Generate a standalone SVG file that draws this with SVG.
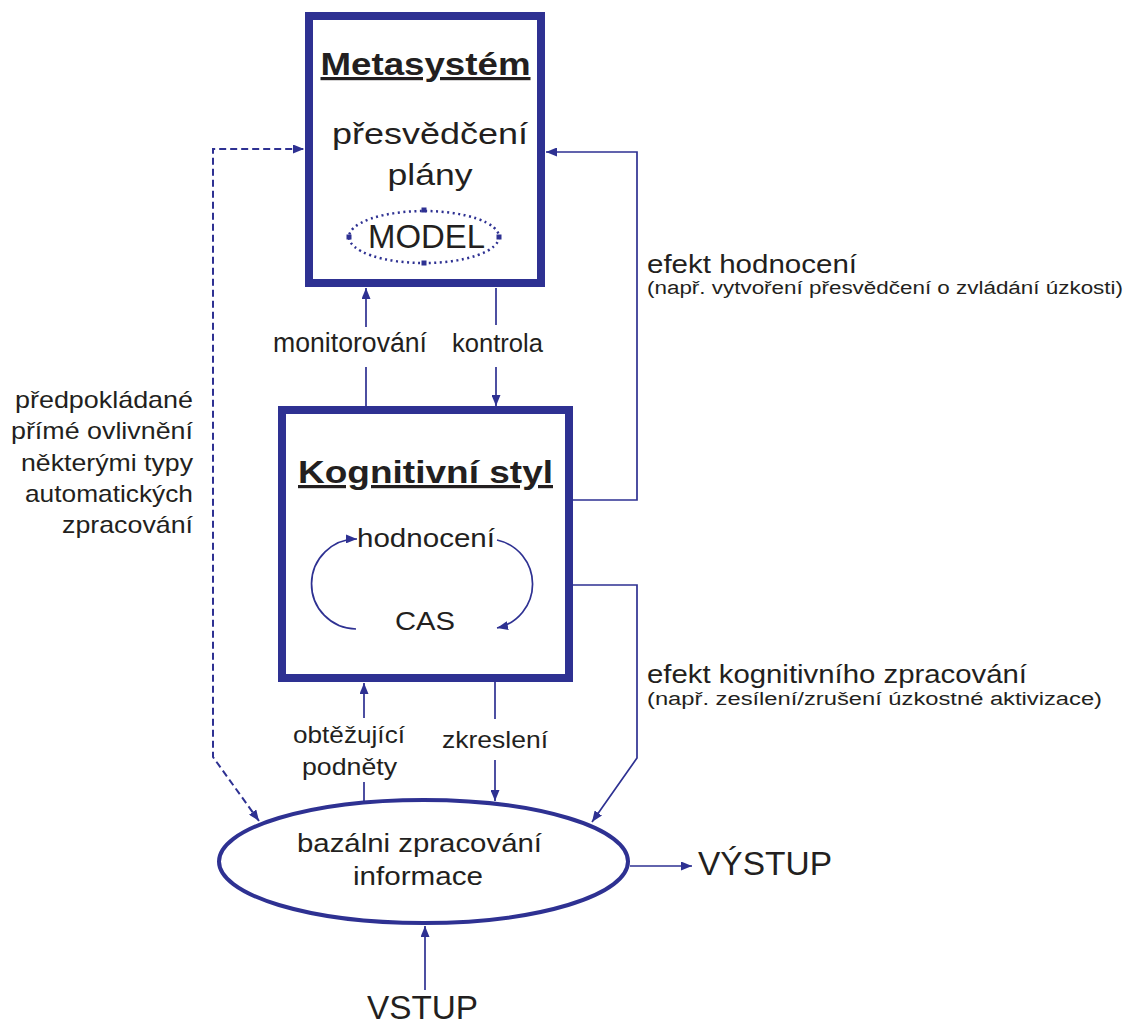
<svg xmlns="http://www.w3.org/2000/svg" width="1136" height="1025" viewBox="0 0 1136 1025">
<defs>
<style>
.box{fill:#fff;stroke:#2e3192;stroke-width:8}
.ell{fill:#fff;stroke:#2e3192;stroke-width:4}
.con{fill:none;stroke:#2e3192;stroke-width:1.7}
.dash{fill:none;stroke:#2e3192;stroke-width:2;stroke-dasharray:7 4}
text{font-family:"Liberation Sans",Arial,sans-serif;fill:#231f20}
.b{font-weight:bold;text-decoration:underline}
.m{text-anchor:middle}
</style>
<marker id="arr" viewBox="0 0 11 9" refX="11" refY="4.5" markerWidth="11" markerHeight="9" markerUnits="userSpaceOnUse" orient="auto-start-reverse">
<path d="M0,0 L11,4.5 L0,9 z" fill="#2e3192"/>
</marker>
</defs>
<rect width="1136" height="1025" fill="#fff"/>

<g id="connectors">
<path class="con" d="M366,406 V367 M366,327 V288" marker-end="url(#arr)"/>
<path class="con" d="M496,288 V325"/>
<path class="con" d="M496,367 V406" marker-end="url(#arr)"/>
<path class="con" d="M364,801 V782 M364,718 V683" marker-end="url(#arr)"/>
<path class="con" d="M495,682 V719"/>
<path class="con" d="M495,760 V801" marker-end="url(#arr)"/>
<path class="con" d="M573,500 H637 V152 H546" marker-end="url(#arr)"/>
<path class="con" d="M573,585 H637 V758 L592,822" marker-end="url(#arr)"/>
<path class="dash" d="M259,821 L213,757 V149 H304" marker-start="url(#arr)" marker-end="url(#arr)"/>
<path class="con" d="M630,866 H692" marker-end="url(#arr)"/>
<path class="con" d="M425,990 V926" marker-end="url(#arr)"/>
</g>

<g id="metasystem">
<rect class="box" x="309" y="16" width="232" height="267"/>
<text class="b m" x="425.5" y="75" font-size="32" textLength="210" lengthAdjust="spacingAndGlyphs">Metasystém</text>
<text class="m" x="430" y="144" font-size="30" textLength="196" lengthAdjust="spacingAndGlyphs">přesvědčení</text>
<text class="m" x="430" y="185" font-size="30" textLength="85" lengthAdjust="spacingAndGlyphs">plány</text>
<g id="model">
<ellipse cx="424" cy="237" rx="75" ry="26" fill="none" stroke="#2e3192" stroke-width="2.5" stroke-dasharray="2 3.5"/>
<rect x="421.5" y="207.5" width="5" height="5" fill="#2e3192"/>
<rect x="421.5" y="260.5" width="5" height="5" fill="#2e3192"/>
<rect x="346.5" y="234.5" width="5" height="5" fill="#2e3192"/>
<rect x="496.5" y="234.5" width="5" height="5" fill="#2e3192"/>
<text class="m" x="426.5" y="248" font-size="33" textLength="117" lengthAdjust="spacingAndGlyphs">MODEL</text>
</g>
</g>

<g id="kognitivni-styl">
<rect class="box" x="282" y="410" width="287" height="268"/>
<text class="b m" x="425.5" y="483" font-size="32" textLength="255" lengthAdjust="spacingAndGlyphs">Kognitivní styl</text>
<text class="m" x="426" y="547" font-size="26" textLength="138" lengthAdjust="spacingAndGlyphs">hodnocení</text>
<text class="m" x="425" y="630" font-size="26" textLength="60" lengthAdjust="spacingAndGlyphs">CAS</text>
<path class="con" d="M356,629 A45,45 0 0 1 357,539" marker-end="url(#arr)"/>
<path class="con" d="M497,540 A45,45 0 0 1 497,628" marker-end="url(#arr)"/>
</g>

<g id="bazalni">
<ellipse class="ell" cx="423.5" cy="861.5" rx="204.5" ry="61.5"/>
<text class="m" x="419.5" y="852" font-size="26" textLength="245" lengthAdjust="spacingAndGlyphs">bazálni zpracování</text>
<text class="m" x="418" y="885" font-size="26" textLength="130" lengthAdjust="spacingAndGlyphs">informace</text>
</g>

<g id="labels">
<text x="273" y="352" font-size="27" textLength="154" lengthAdjust="spacingAndGlyphs">monitorování</text>
<text x="452" y="352" font-size="26" textLength="91" lengthAdjust="spacingAndGlyphs">kontrola</text>
<text class="m" x="349" y="743" font-size="24" textLength="112" lengthAdjust="spacingAndGlyphs">obtěžující</text>
<text class="m" x="349.5" y="775" font-size="24" textLength="95" lengthAdjust="spacingAndGlyphs">podněty</text>
<text class="m" x="495" y="748" font-size="24" textLength="106" lengthAdjust="spacingAndGlyphs">zkreslení</text>
<text x="647" y="273" font-size="25" textLength="210" lengthAdjust="spacingAndGlyphs">efekt hodnocení</text>
<text x="647" y="294" font-size="18" textLength="476" lengthAdjust="spacingAndGlyphs">(např. vytvoření přesvědčení o zvládání úzkosti)</text>
<text x="647" y="683" font-size="25" textLength="380" lengthAdjust="spacingAndGlyphs">efekt kognitivního zpracování</text>
<text x="647" y="705" font-size="18" textLength="455" lengthAdjust="spacingAndGlyphs">(např. zesílení/zrušení úzkostné aktivizace)</text>
<g font-size="24" text-anchor="end">
<text x="193" y="408" textLength="178" lengthAdjust="spacingAndGlyphs">předpokládané</text>
<text x="193" y="439" textLength="182" lengthAdjust="spacingAndGlyphs">přímé ovlivnění</text>
<text x="193" y="471" textLength="172" lengthAdjust="spacingAndGlyphs">některými typy</text>
<text x="193" y="502" textLength="168" lengthAdjust="spacingAndGlyphs">automatických</text>
<text x="193" y="533" textLength="131" lengthAdjust="spacingAndGlyphs">zpracování</text>
</g>
</g>

<g id="vstup">
<text class="m" x="422.5" y="1019" font-size="34" textLength="111" lengthAdjust="spacingAndGlyphs">VSTUP</text>
</g>
<g id="vystup">
<text x="698" y="875" font-size="33" textLength="134" lengthAdjust="spacingAndGlyphs">VÝSTUP</text>
</g>
</svg>
